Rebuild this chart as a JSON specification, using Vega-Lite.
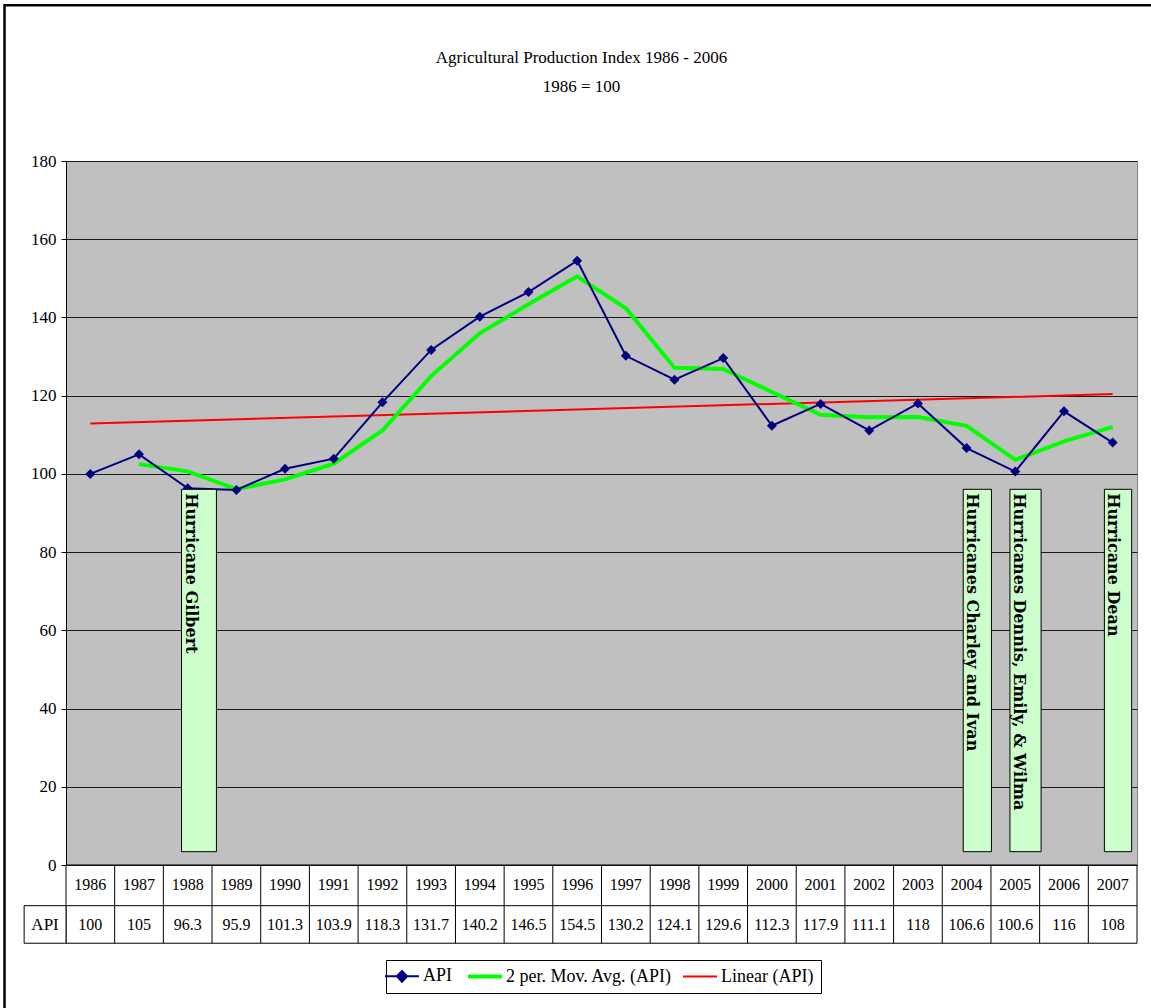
{
  "$schema": "https://vega.github.io/schema/vega-lite/v6.json",
  "autosize": {"type": "none"},
  "width": 1071,
  "height": 704,
  "padding": {"left": 66, "top": 161, "right": 14, "bottom": 143},
  "background": "white",
  "title": {
    "text": "Agricultural Production Index 1986 - 2006",
    "subtitle": "1986 = 100",
    "anchor": "middle",
    "dx": -20,
    "offset": -92,
    "font": "Liberation Serif",
    "fontSize": 17,
    "fontWeight": "normal",
    "color": "black",
    "subtitleFont": "Liberation Serif",
    "subtitleFontSize": 17,
    "subtitleColor": "black",
    "subtitlePadding": 12
  },
  "config": {
    "font": "Liberation Serif",
    "view": {"fill": "#c0c0c0", "stroke": "#808080", "strokeWidth": 1},
    "axis": {"labelFont": "Liberation Serif"}
  },
  "datasets": {
    "series": [
      {"year": 1986, "series": "API", "value": 100},
      {"year": 1987, "series": "API", "value": 105},
      {"year": 1988, "series": "API", "value": 96.3},
      {"year": 1989, "series": "API", "value": 95.9},
      {"year": 1990, "series": "API", "value": 101.3},
      {"year": 1991, "series": "API", "value": 103.9},
      {"year": 1992, "series": "API", "value": 118.3},
      {"year": 1993, "series": "API", "value": 131.7},
      {"year": 1994, "series": "API", "value": 140.2},
      {"year": 1995, "series": "API", "value": 146.5},
      {"year": 1996, "series": "API", "value": 154.5},
      {"year": 1997, "series": "API", "value": 130.2},
      {"year": 1998, "series": "API", "value": 124.1},
      {"year": 1999, "series": "API", "value": 129.6},
      {"year": 2000, "series": "API", "value": 112.3},
      {"year": 2001, "series": "API", "value": 117.9},
      {"year": 2002, "series": "API", "value": 111.1},
      {"year": 2003, "series": "API", "value": 118},
      {"year": 2004, "series": "API", "value": 106.6},
      {"year": 2005, "series": "API", "value": 100.6},
      {"year": 2006, "series": "API", "value": 116},
      {"year": 2007, "series": "API", "value": 108},
      {"year": 1987, "series": "2 per. Mov. Avg. (API)", "value": 102.5},
      {"year": 1988, "series": "2 per. Mov. Avg. (API)", "value": 100.65},
      {"year": 1989, "series": "2 per. Mov. Avg. (API)", "value": 96.1},
      {"year": 1990, "series": "2 per. Mov. Avg. (API)", "value": 98.6},
      {"year": 1991, "series": "2 per. Mov. Avg. (API)", "value": 102.6},
      {"year": 1992, "series": "2 per. Mov. Avg. (API)", "value": 111.1},
      {"year": 1993, "series": "2 per. Mov. Avg. (API)", "value": 125},
      {"year": 1994, "series": "2 per. Mov. Avg. (API)", "value": 135.95},
      {"year": 1995, "series": "2 per. Mov. Avg. (API)", "value": 143.35},
      {"year": 1996, "series": "2 per. Mov. Avg. (API)", "value": 150.5},
      {"year": 1997, "series": "2 per. Mov. Avg. (API)", "value": 142.35},
      {"year": 1998, "series": "2 per. Mov. Avg. (API)", "value": 127.15},
      {"year": 1999, "series": "2 per. Mov. Avg. (API)", "value": 126.85},
      {"year": 2000, "series": "2 per. Mov. Avg. (API)", "value": 120.95},
      {"year": 2001, "series": "2 per. Mov. Avg. (API)", "value": 115.1},
      {"year": 2002, "series": "2 per. Mov. Avg. (API)", "value": 114.5},
      {"year": 2003, "series": "2 per. Mov. Avg. (API)", "value": 114.55},
      {"year": 2004, "series": "2 per. Mov. Avg. (API)", "value": 112.3},
      {"year": 2005, "series": "2 per. Mov. Avg. (API)", "value": 103.6},
      {"year": 2006, "series": "2 per. Mov. Avg. (API)", "value": 108.3},
      {"year": 2007, "series": "2 per. Mov. Avg. (API)", "value": 112},
      {"year": 1986, "series": "Linear (API)", "value": 112.9},
      {"year": 2007, "series": "Linear (API)", "value": 120.4}
    ],
    "notes": [
      {"label": "Hurricane Gilbert", "x_start": 1987.873, "x_end": 1988.59, "y_low": 3.4, "y_high": 96.06},
      {"label": "Hurricanes Charley and Ivan", "x_start": 2003.93, "x_end": 2004.51, "y_low": 3.4, "y_high": 96.06},
      {"label": "Hurricanes Dennis, Emily, & Wilma", "x_start": 2004.89, "x_end": 2005.53, "y_low": 3.4, "y_high": 96.06},
      {"label": "Hurricane Dean", "x_start": 2006.83, "x_end": 2007.39, "y_low": 3.4, "y_high": 96.06}
    ],
    "one": [{}]
  },
  "data": {"name": "series"},
  "layer": [
    {
      "data": {"name": "one"},
      "mark": {"type": "rect", "fill": "white", "fillOpacity": 0, "stroke": "black", "strokeWidth": 2.5},
      "encoding": {
        "x": {"datum": 1984.237, "type": "quantitative", "axis": null, "scale": {"domain": [1985.5, 2007.5], "nice": false, "zero": false}},
        "x2": {"datum": 2008.3},
        "y": {"datum": 219.8, "type": "quantitative", "title": null,
          "scale": {"domain": [0, 180], "nice": false, "zero": false},
          "axis": {"values": [0, 20, 40, 60, 80, 100, 120, 140, 160, 180], "grid": true, "gridColor": "#1a1a1a", "gridWidth": 1,
            "domain": true, "domainColor": "black", "tickColor": "black", "tickSize": 5,
            "labelFont": "Liberation Serif", "labelFontSize": 17, "labelColor": "black", "labelPadding": 5, "title": null}},
        "y2": {"datum": -45}
      }
    },
    {
      "transform": [{"filter": "datum.series === 'API'"}],
      "mark": {"type": "rule", "stroke": "black", "strokeWidth": 1, "xOffset": -24.34},
      "encoding": {
        "x": {"field": "year", "type": "quantitative", "axis": null},
        "y": {"datum": 0, "type": "quantitative", "title": null},
        "y2": {"datum": -20}
      }
    },
    {
      "data": {"name": "one"},
      "mark": {"type": "rule", "stroke": "black", "strokeWidth": 1},
      "encoding": {
        "x": {"datum": 2007.5, "type": "quantitative", "axis": null},
        "y": {"datum": 0, "type": "quantitative", "title": null},
        "y2": {"datum": -20}
      }
    },
    {
      "data": {"name": "one"},
      "mark": {"type": "rule", "stroke": "black", "strokeWidth": 1},
      "encoding": {
        "x": {"datum": 1985.5, "type": "quantitative", "axis": null},
        "x2": {"datum": 2007.5},
        "y": {"datum": 0, "type": "quantitative", "title": null}
      }
    },
    {
      "data": {"name": "one"},
      "mark": {"type": "rule", "stroke": "black", "strokeWidth": 1},
      "encoding": {
        "x": {"datum": 1985.5, "type": "quantitative", "axis": null},
        "x2": {"datum": 2007.5},
        "y": {"datum": -10.4, "type": "quantitative", "title": null}
      }
    },
    {
      "data": {"name": "one"},
      "mark": {"type": "rule", "stroke": "black", "strokeWidth": 1},
      "encoding": {
        "x": {"datum": 1985.5, "type": "quantitative", "axis": null},
        "x2": {"datum": 2007.5},
        "y": {"datum": -20, "type": "quantitative", "title": null}
      }
    },
    {
      "data": {"name": "one"},
      "mark": {"type": "rect", "fill": "white", "stroke": "black", "strokeWidth": 1},
      "encoding": {
        "x": {"datum": 1984.64, "type": "quantitative", "axis": null},
        "x2": {"datum": 1985.5},
        "y": {"datum": -10.4, "type": "quantitative", "title": null},
        "y2": {"datum": -20}
      }
    },
    {
      "data": {"name": "one"},
      "mark": {"type": "text", "font": "Liberation Serif", "fontSize": 17, "color": "black", "baseline": "middle", "align": "center"},
      "encoding": {
        "x": {"datum": 1985.07, "type": "quantitative", "axis": null},
        "y": {"datum": -15.4, "type": "quantitative", "title": null},
        "text": {"value": "API"}
      }
    },
    {
      "transform": [{"filter": "datum.series === 'API'"}],
      "mark": {"type": "text", "font": "Liberation Serif", "fontSize": 16, "color": "black", "baseline": "middle", "align": "center"},
      "encoding": {
        "x": {"field": "year", "type": "quantitative", "axis": null},
        "y": {"datum": -5.1, "type": "quantitative", "title": null},
        "text": {"field": "year", "type": "nominal"}
      }
    },
    {
      "transform": [{"filter": "datum.series === 'API'"}],
      "mark": {"type": "text", "font": "Liberation Serif", "fontSize": 16, "color": "black", "baseline": "middle", "align": "center"},
      "encoding": {
        "x": {"field": "year", "type": "quantitative", "axis": null},
        "y": {"datum": -15.4, "type": "quantitative", "title": null},
        "text": {"field": "value", "type": "nominal"}
      }
    },
    {
      "transform": [{"filter": "datum.series === 'Linear (API)'"}],
      "mark": {"type": "line", "strokeWidth": 2},
      "encoding": {
        "x": {"field": "year", "type": "quantitative", "axis": null},
        "y": {"field": "value", "type": "quantitative", "title": null},
        "color": {"field": "series", "type": "nominal"}
      }
    },
    {
      "transform": [{"filter": "datum.series === '2 per. Mov. Avg. (API)'"}],
      "mark": {"type": "line", "strokeWidth": 4},
      "encoding": {
        "x": {"field": "year", "type": "quantitative", "axis": null},
        "y": {"field": "value", "type": "quantitative", "title": null},
        "color": {"field": "series", "type": "nominal"}
      }
    },
    {
      "transform": [{"filter": "datum.series === 'API'"}],
      "mark": {"type": "line", "strokeWidth": 2},
      "encoding": {
        "x": {"field": "year", "type": "quantitative", "axis": null},
        "y": {"field": "value", "type": "quantitative", "title": null},
        "color": {
          "field": "series", "type": "nominal",
          "scale": {"domain": ["API", "2 per. Mov. Avg. (API)", "Linear (API)"], "range": ["#000080", "#00ff00", "#ff0000"]},
          "legend": {
            "orient": "none", "legendX": 320, "legendY": 799, "direction": "horizontal", "title": null,
            "strokeColor": "black", "fillColor": "white", "padding": 7,
            "labelFont": "Liberation Serif", "labelFontSize": 18, "labelColor": "black", "labelLimit": 300,
            "symbolSize": 1156, "labelOffset": 12, "columnPadding": 7,
            "encode": {
              "symbols": {
                "update": {
                  "shape": {"signal": "datum.value === 'API' ? 'M-1,0L1,0M0,-0.32L0.3,0L0,0.32L-0.3,0Z' : 'stroke'"},
                  "stroke": {"signal": "datum.value === 'API' ? '#000080' : datum.value === 'Linear (API)' ? '#ff0000' : '#00ff00'"},
                  "fill": {"signal": "datum.value === 'API' ? '#000080' : 'transparent'"},
                  "fillOpacity": {"value": 1},
                  "strokeWidth": {"signal": "datum.value === '2 per. Mov. Avg. (API)' ? 4 : 2"}
                }
              }
            }
          }
        }
      }
    },
    {
      "transform": [{"filter": "datum.series === 'API'"}],
      "mark": {"type": "point", "shape": "diamond", "size": 100, "filled": true, "opacity": 1},
      "encoding": {
        "x": {"field": "year", "type": "quantitative", "axis": null},
        "y": {"field": "value", "type": "quantitative", "title": null},
        "color": {"field": "series", "type": "nominal"}
      }
    },
    {
      "data": {"name": "notes"},
      "mark": {"type": "rect", "fill": "#ccffcc", "stroke": "black", "strokeWidth": 1},
      "encoding": {
        "x": {"field": "x_start", "type": "quantitative", "axis": null},
        "x2": {"field": "x_end"},
        "y": {"field": "y_low", "type": "quantitative", "title": null},
        "y2": {"field": "y_high"}
      }
    },
    {
      "data": {"name": "notes"},
      "mark": {"type": "text", "angle": 90, "align": "left", "baseline": "middle", "dx": 4, "dy": -9, "font": "DejaVu Serif", "fontSize": 16, "fontWeight": "bold", "color": "black"},
      "encoding": {
        "x": {"field": "x_start", "type": "quantitative", "axis": null},
        "y": {"field": "y_high", "type": "quantitative", "title": null},
        "text": {"field": "label", "type": "nominal"}
      }
    }
  ]
}
